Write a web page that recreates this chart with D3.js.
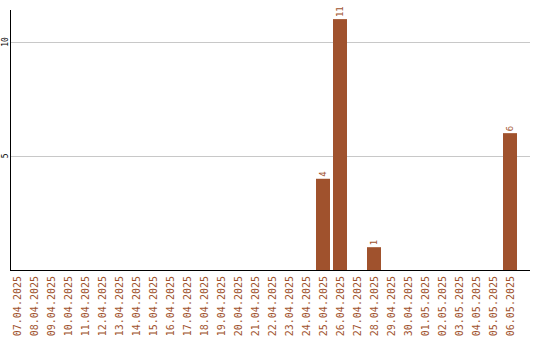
<!DOCTYPE html>
<html>
<head>
<meta charset="utf-8">
<script src="https://cdn.jsdelivr.net/npm/d3@7"></script>
<style>
  html, body { margin: 0; padding: 0; background: #fff; }
  svg { display: block; }
  text { font-family: "DejaVu Sans Mono", "Liberation Mono", monospace; }
</style>
</head>
<body>
<svg id="chart" width="540" height="340"></svg>
<script>
// Daily counts, 07.04.2025 – 06.05.2025
const dates = [
  "07.04.2025", "08.04.2025", "09.04.2025", "10.04.2025", "11.04.2025",
  "12.04.2025", "13.04.2025", "14.04.2025", "15.04.2025", "16.04.2025",
  "17.04.2025", "18.04.2025", "19.04.2025", "20.04.2025", "21.04.2025",
  "22.04.2025", "23.04.2025", "24.04.2025", "25.04.2025", "26.04.2025",
  "27.04.2025", "28.04.2025", "29.04.2025", "30.04.2025", "01.05.2025",
  "02.05.2025", "03.05.2025", "04.05.2025", "05.05.2025", "06.05.2025"
];
const counts = [
  0, 0, 0, 0, 0, 0, 0, 0, 0, 0,
  0, 0, 0, 0, 0, 0, 0, 0, 4, 11,
  0, 1, 0, 0, 0, 0, 0, 0, 0, 6
];
const yTicks = [5, 10];

const barColor = "#a0522d";
const svg = d3.select("#chart");

const plotLeft = 10, plotRight = 530, plotTop = 10, plotBottom = 270;

const x = d3.scaleBand()
  .domain(dates)
  .range([plotLeft, plotLeft + 17 * (dates.length - 1) + 14])
  .paddingInner(3 / 17)
  .paddingOuter(0);

const y = d3.scaleLinear()
  .domain([0, 11.4])
  .range([plotBottom, plotTop]);

// horizontal grid lines
svg.append("g")
  .selectAll("line")
  .data(yTicks)
  .join("line")
  .attr("x1", plotLeft)
  .attr("x2", plotRight)
  .attr("y1", d => Math.round(y(d)) + 0.5)
  .attr("y2", d => Math.round(y(d)) + 0.5)
  .attr("stroke", "#c8c8c8")
  .attr("stroke-width", 1);

// y tick labels, rotated
svg.append("g")
  .selectAll("text")
  .data(yTicks)
  .join("text")
  .attr("transform", d => `translate(7.5,${y(d)}) rotate(-90)`)
  .attr("text-anchor", "middle")
  .attr("font-size", 8)
  .attr("fill", "#000")
  .text(d => d);

const data = dates.map((d, i) => ({ date: d, value: counts[i] }));

// bars
svg.append("g")
  .selectAll("rect")
  .data(data.filter(d => d.value > 0))
  .join("rect")
  .attr("x", d => x(d.date))
  .attr("width", x.bandwidth())
  .attr("y", d => y(d.value))
  .attr("height", d => y(0) - y(d.value))
  .attr("fill", barColor);

// value labels above bars
svg.append("g")
  .selectAll("text")
  .data(data.filter(d => d.value > 0))
  .join("text")
  .attr("transform", d => `translate(${x(d.date) + x.bandwidth() / 2},${y(d.value) - 2}) rotate(-90)`)
  .attr("text-anchor", "start")
  .attr("dy", "0.35em")
  .attr("font-size", 9)
  .attr("fill", barColor)
  .text(d => d.value);

// x axis labels
svg.append("g")
  .selectAll("text")
  .data(dates)
  .join("text")
  .attr("transform", d => `translate(${x(d) + x.bandwidth() / 2},276) rotate(-90)`)
  .attr("text-anchor", "end")
  .attr("dy", "0.35em")
  .attr("font-size", 10)
  .attr("fill", barColor)
  .text(d => d);

// axis lines
svg.append("line")
  .attr("x1", plotLeft + 0.5).attr("x2", plotLeft + 0.5)
  .attr("y1", plotTop).attr("y2", plotBottom + 1)
  .attr("stroke", "#000").attr("stroke-width", 1);
svg.append("line")
  .attr("x1", plotLeft).attr("x2", plotRight)
  .attr("y1", plotBottom + 0.5).attr("y2", plotBottom + 0.5)
  .attr("stroke", "#000").attr("stroke-width", 1);
</script>
</body>
</html>
